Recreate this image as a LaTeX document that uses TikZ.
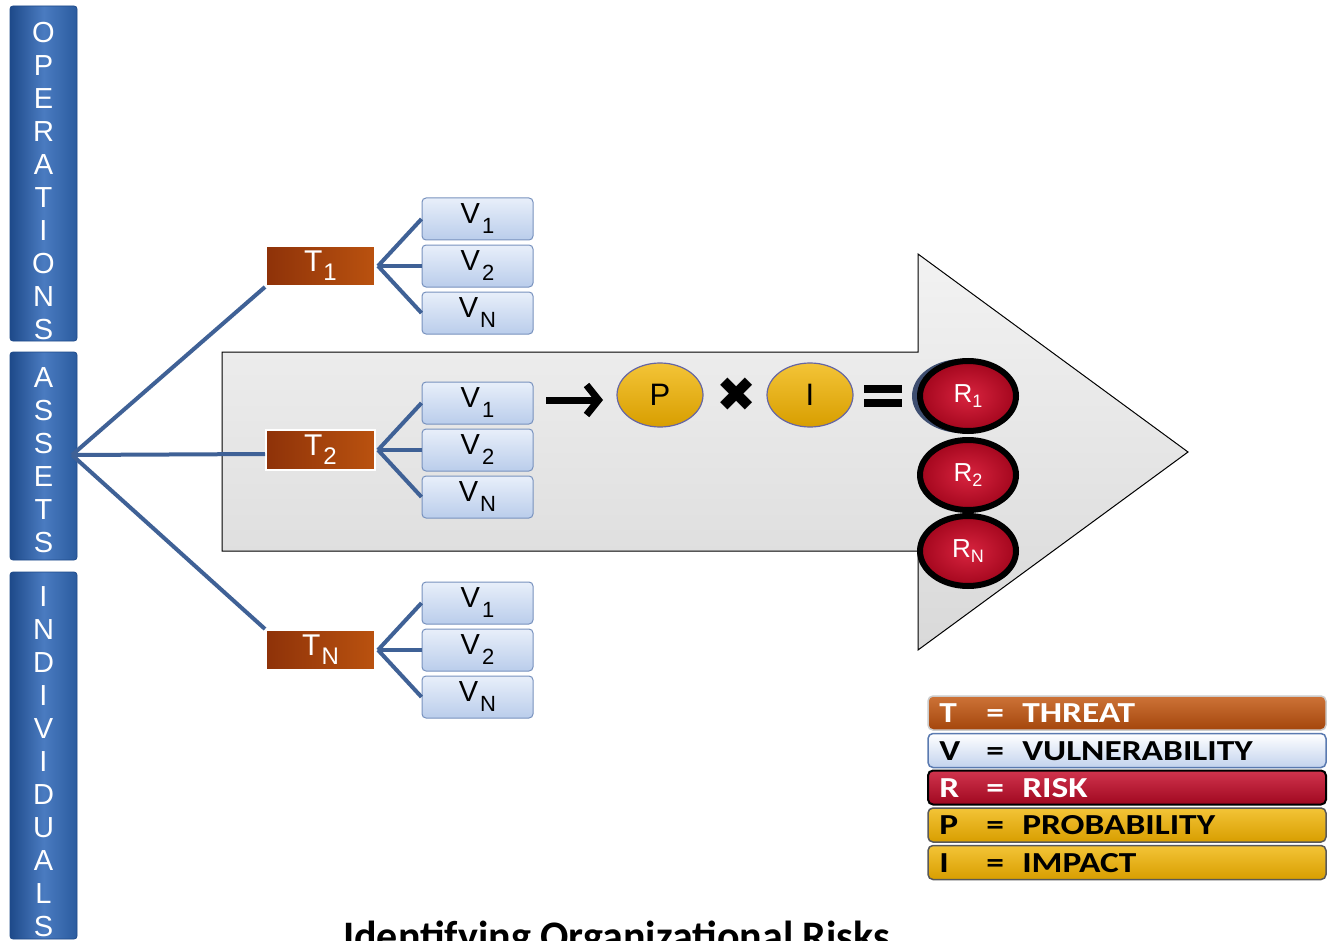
\documentclass[tikz,border=0pt]{standalone}
\usepackage{fontspec}
\setmainfont{Liberation Sans}
\newfontfamily\carl{Carlito}
\newfontfamily\dvs{DejaVu Sans}
\usetikzlibrary{shapes.geometric,arrows.meta}
\definecolor{barblue}{HTML}{2B5C9F}
\definecolor{barblueL}{HTML}{4A7BC0}
\definecolor{barblueD}{HTML}{1E4A8A}
\definecolor{tbrownD}{HTML}{8E3209}
\definecolor{tbrownL}{HTML}{BA520F}
\definecolor{vblueT}{HTML}{E8EFFA}
\definecolor{vblueB}{HTML}{BACDEB}
\definecolor{vborder}{HTML}{7892BE}
\definecolor{linkblue}{HTML}{3F6196}
\definecolor{goldL}{HTML}{F3C437}
\definecolor{goldD}{HTML}{D89E00}
\definecolor{redL}{HTML}{D8243F}
\definecolor{redD}{HTML}{A3061D}
\definecolor{legT}{HTML}{C45A14}
\definecolor{legTD}{HTML}{A4460C}
\definecolor{legV}{HTML}{C3D3EE}
\definecolor{legVB}{HTML}{5A7AB0}
\definecolor{legR}{HTML}{C8102E}
\definecolor{legRD}{HTML}{A00820}
\definecolor{rshade}{HTML}{3E4E70}
\newcommand\vsub[2]{#1\hspace{2pt}\raisebox{-10pt}{\fontsize{22}{22}\selectfont #2}}
\newcommand\tsub[2]{#1\hspace{1pt}\raisebox{-9pt}{\fontsize{24}{24}\selectfont #2}}
\newcommand\rsub[2]{#1\raisebox{-5pt}{\fontsize{18}{18}\selectfont #2}}
\tikzset{
  bar/.style={draw=barblueD, line width=0.8, rounded corners=3, left color=barblueD, right color=barblue, middle color=barblueL, inner sep=0},
  bartext/.style={text=white, align=center, font=\fontsize{29}{33}\selectfont, inner sep=0},
  tbox/.style={draw=white, line width=2, left color=tbrownD, right color=tbrownL, minimum width=109, minimum height=40, inner sep=0, text=white, font=\fontsize{30}{30}\selectfont},
  vbox/.style={draw=vborder, line width=1, rounded corners=4, top color=vblueT, bottom color=vblueB, minimum width=111, minimum height=42, inner sep=0, font=\fontsize{29}{30}\selectfont},
  link/.style={draw=linkblue, line width=4},
  pinode/.style={ellipse, draw=black!60!blue!60, line width=1.2, top color=goldL, bottom color=goldD, minimum width=86, minimum height=64, inner sep=0, font=\fontsize{31}{31}\selectfont},
  rnode/.style={ellipse, draw=black, line width=6, inner color=redL, outer color=redD, minimum width=96, minimum height=70, inner sep=0, text=white, font=\fontsize{26}{26}\selectfont},
  legrow/.style={rounded corners=5, minimum width=398, minimum height=34, inner sep=0},
  legtext/.style={font=\carl\bfseries\fontsize{29}{29}\selectfont, xscale=1.22, inner sep=0, anchor=base west},
}
\begin{document}
\begin{tikzpicture}[x=1pt,y=1pt]
\useasboundingbox (0,0) rectangle (1329,-941);
\clip (0,0) rectangle (1329,-941);
\fill[white] (0,0) rectangle (1329,-941);

% side bars
\node[bar, minimum width=67, minimum height=335] (ops) at (43.5,-173.5) {};
\node[bar, minimum width=67, minimum height=208] (ast) at (43.5,-456) {};
\node[bar, minimum width=67, minimum height=367] (ind) at (43.5,-755.5) {};
\node[bartext] (opst) at (43.5,-181) {O\\P\\E\\R\\A\\T\\I\\O\\N\\S};
\node[bartext] (astt) at (43.5,-460.5) {A\\S\\S\\E\\T\\S};
\node[bartext] (indt) at (43.5,-762) {I\\N\\D\\I\\V\\I\\D\\U\\A\\L\\S};

% big arrow
\draw[black, line width=1, top color=gray!10, bottom color=gray!30]
  (222,-352) -- (918,-352) -- (918,-254) -- (1188,-452) -- (918,-650)
  -- (918,-551) -- (222,-551) -- cycle;

% threats
\node[tbox] (t1) at (320.5,-266) {\tsub{T}{1}};
\node[tbox] (t2) at (320.5,-450) {\tsub{T}{2}};
\node[tbox] (tn) at (320.5,-650) {\tsub{T}{N}};

% vulnerabilities
\node[vbox] (a1) at (477.5,-219) {\vsub{V}{1}};
\node[vbox] (a2) at (477.5,-266) {\vsub{V}{2}};
\node[vbox] (an) at (477.5,-313) {\vsub{V}{N}};
\node[vbox] (b1) at (477.5,-403) {\vsub{V}{1}};
\node[vbox] (b2) at (477.5,-450) {\vsub{V}{2}};
\node[vbox] (bn) at (477.5,-497) {\vsub{V}{N}};
\node[vbox] (c1) at (477.5,-603) {\vsub{V}{1}};
\node[vbox] (c2) at (477.5,-650) {\vsub{V}{2}};
\node[vbox] (cn) at (477.5,-697) {\vsub{V}{N}};

% links
\coordinate (hub) at (72,-455);
\draw[link] (hub) -- (t1.south west);
\draw[link] (hub) -- ([yshift=-4]t2.west);
\draw[link] (hub) -- (tn.north west);
\foreach \t/\v in {t1/a,t2/b,tn/c}{
  \draw[link] ([xshift=2]\t.east) -- (\v1.west);
  \draw[link] ([xshift=2]\t.east) -- (\v2.west);
  \draw[link] ([xshift=2]\t.east) -- (\v n.west);
}

% formula
\coordinate (arS) at (546,-400);
\coordinate (arE) at (603,-400);
\draw[line width=7, -{Straight Barb[length=12,width=30,line width=7]}] (arS) -- (arE);
\node[pinode] (p) at (660,-395) {P};
\node[font=\dvs\fontsize{48}{48}\selectfont, inner sep=0] (x) at (737,-395) {✖};
\node[pinode] (i) at (810,-395) {I};
\fill[black] (864,-385) rectangle (902,-393);
\fill[black] (864,-399) rectangle (902,-407);
\fill[rshade] (962,-396) ellipse (50 and 37);
\node[rnode] (r1) at (968,-396) {\rsub{R}{1}};
\node[rnode] (r2) at (968,-475) {\rsub{R}{2}};
\node[rnode] (rn) at (968,-551) {\rsub{R}{N}};

% legend
\node[legrow, draw=gray!40, line width=1.5, top color=legT!85!white, bottom color=legTD] (lt) at (1127,-713) {};
\node[legrow, draw=legVB, line width=1.5, top color=white, bottom color=legV] (lv) at (1127,-750.5) {};
\node[legrow, draw=black, line width=2, top color=legR!85!white, bottom color=legRD] (lr) at (1127,-787.5) {};
\node[legrow, draw=gray!70!black, line width=1.5, top color=goldL, bottom color=goldD] (lp) at (1127,-825) {};
\node[legrow, draw=gray!70!black, line width=1.5, top color=goldL, bottom color=goldD] (li) at (1127,-862.5) {};
\foreach \n/\l/\w/\c in {lt/T/THREAT/white, lv/V/VULNERABILITY/black, lr/R/RISK/white, lp/P/PROBABILITY/black, li/I/IMPACT/black}{
  \node[legtext, text=\c] at ([xshift=-188, yshift=-9.5]\n.center) {\l};
  \node[legtext, text=\c] at ([xshift=-141, yshift=-9.5]\n.center) {=};
  \node[legtext, text=\c] at ([xshift=-105, yshift=-9.5]\n.center) {\w};
}

% title (cut off by the lower edge, as in the reference)
\node[font=\carl\bfseries\fontsize{42}{42}\selectfont, inner sep=0, anchor=base west] (title) at (343,-950) {Identifying Organizational Risks};
\end{tikzpicture}
\end{document}
